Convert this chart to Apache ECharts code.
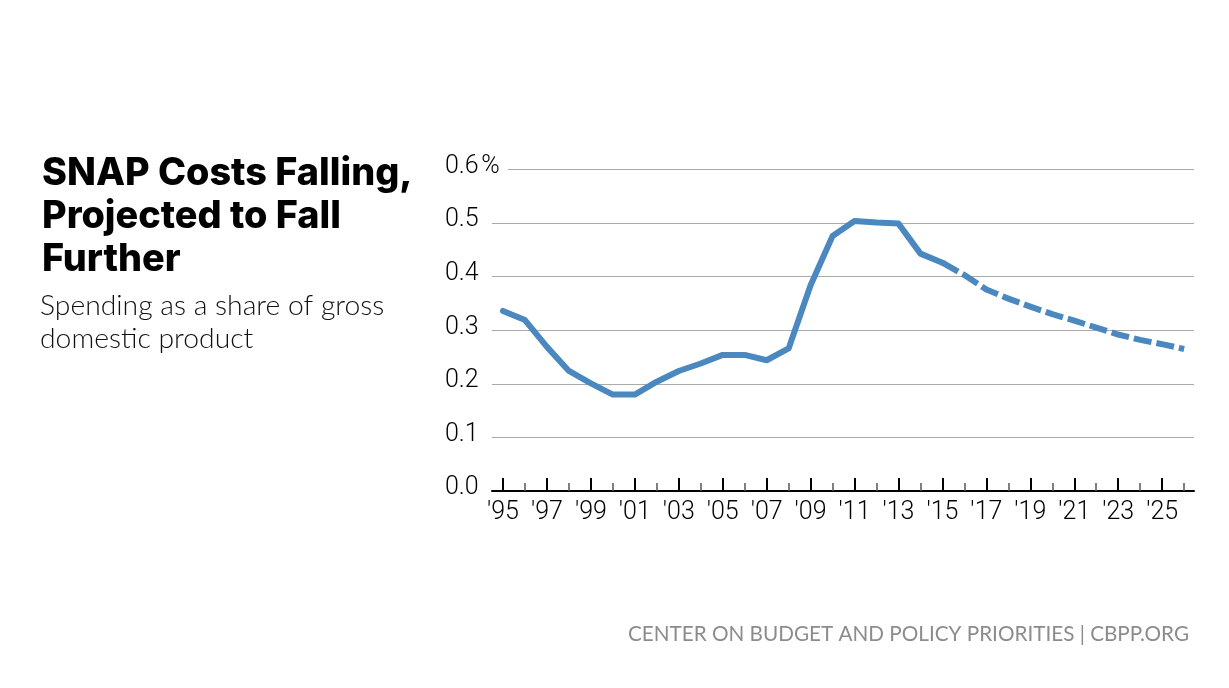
<!DOCTYPE html>
<html>
<head>
<meta charset="utf-8">
<script src="https://cdn.jsdelivr.net/npm/echarts@6/dist/echarts.min.js"></script>
<style>
html,body{margin:0;padding:0;background:#fff;}
#chart{width:1229px;height:688px;}
</style>
</head>
<body>
<div id="chart"></div>
<script>
// Data
const actualYears = [1995,1996,1997,1998,1999,2000,2001,2002,2003,2004,2005,2006,2007,2008,2009,2010,2011,2012,2013,2014,2015];
const actualValues = [0.336,0.319,0.269,0.224,0.201,0.180,0.180,0.204,0.224,0.238,0.254,0.254,0.244,0.266,0.384,0.476,0.504,0.501,0.499,0.443,0.426];
const projYears = [2015,2016,2017,2018,2019,2020,2021,2022,2023,2024,2025,2026];
const projValues = [0.426,0.403,0.376,0.359,0.344,0.330,0.318,0.305,0.292,0.282,0.274,0.265];
const labelYears = [1995,1997,1999,2001,2003,2005,2007,2009,2011,2013,2015,2017,2019,2021,2023,2025];
const minorYears = [1996,1998,2000,2002,2004,2006,2008,2010,2012,2014,2016,2018,2020,2022,2024,2026];

const titleText = 'SNAP Costs Falling,\nProjected to Fall\nFurther';
const subtitleText = 'Spending as a share of gross\ndomestic product';
const sourceText = 'CENTER ON BUDGET AND POLICY PRIORITIES | CBPP.ORG';

const lineColor = '#4a88bf';
const chart = echarts.init(document.getElementById('chart'));

const xCommon = {
  type: 'value', min: 1994.5, max: 2026.45, position: 'bottom',
  splitLine: {show: false}
};
const tickFont = {fontFamily: 'Roboto', fontWeight: 300, fontSize: 25, color: '#000'};

chart.setOption({
  animation: false,
  title: [
    {text: titleText, left: 37, top: 147,
     textStyle: {fontFamily: 'Inter', fontWeight: 800, fontSize: 37.8, color: '#000', lineHeight: 43}},
    {text: subtitleText, left: 35, top: 284,
     textStyle: {fontFamily: 'Lato', fontWeight: 300, fontSize: 28.3, color: '#111', lineHeight: 33}},
    {text: sourceText, right: 35, top: 619,
     textStyle: {fontFamily: 'Lato', fontWeight: 400, fontSize: 20.7, color: '#8c8c8c'}}
  ],
  grid: {left: 492, right: 35, top: 169.5, bottom: 197},
  xAxis: [
    Object.assign({}, xCommon, {
      axisLine: {show: true, lineStyle: {color: '#000', width: 2}},
      axisTick: {show: true, inside: true, length: 13, customValues: labelYears, lineStyle: {color: '#000', width: 2}},
      axisLabel: Object.assign({show: true, customValues: labelYears, margin: 9,
        formatter: v => "'" + String(Math.round(v)).slice(2)}, tickFont)
    }),
    Object.assign({}, xCommon, {
      axisLine: {show: false},
      axisTick: {show: true, inside: true, length: 8, customValues: minorYears, lineStyle: {color: '#555', width: 1.5}},
      axisLabel: {show: false}
    })
  ],
  yAxis: [
    {type: 'value', min: 0, max: 0.6, interval: 0.1,
     axisLine: {show: false}, axisTick: {show: false}, axisLabel: {show: false},
     splitLine: {show: true, lineStyle: {color: '#aaaaaa', width: 1}}},
    {type: 'value', min: 0, max: 0.6, interval: 0.1, position: 'left', z: 10,
     axisLine: {show: false}, axisTick: {show: false}, splitLine: {show: false},
     axisLabel: Object.assign({show: true, align: 'left', margin: 47, padding: [0, 0, 6, 0],
       formatter: v => (Math.abs(v - 0.6) < 1e-9 ? '{top|0.6\u200A%}' : v.toFixed(1)),
       rich: {top: Object.assign({backgroundColor: '#fff', padding: [2, 8, 2, 0]}, tickFont)}}, tickFont)}
  ],
  series: [
    {type: 'line', name: 'Actual', xAxisIndex: 0, yAxisIndex: 0,
     data: actualYears.map((y, i) => [y, actualValues[i]]),
     showSymbol: false, symbol: 'none',
     lineStyle: {color: lineColor, width: 6, cap: 'round', join: 'round'}},
    {type: 'line', name: 'Projected', xAxisIndex: 0, yAxisIndex: 0,
     data: projYears.map((y, i) => [y, projValues[i]]),
     showSymbol: false, symbol: 'none',
     lineStyle: {color: lineColor, width: 6, type: [18, 5], cap: 'butt', join: 'round'}}
  ]
});
</script>
</body>
</html>
